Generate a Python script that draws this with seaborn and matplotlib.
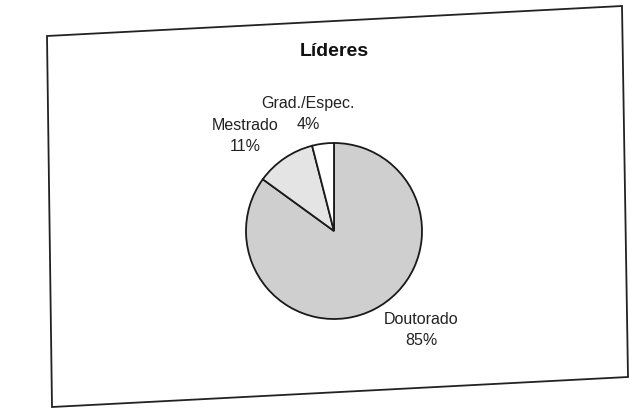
import matplotlib
matplotlib.use("Agg")
import matplotlib.pyplot as plt
from matplotlib.patches import Polygon
import seaborn as sns

# Education level of research group leaders (percent)
categories = ["Doutorado", "Mestrado", "Grad./Espec."]
shares = [85, 11, 4]
title = "Líderes"

slice_colors = ["#cfcfcf", "#e4e4e4", "#ffffff"]
# label anchor points (pixels from the top-left of the canvas)
label_xy = {"Doutorado": (421, 330), "Mestrado": (245, 136), "Grad./Espec.": (308, 114)}

sns.set_theme(style="white")
plt.rcParams["font.family"] = ["Liberation Sans", "DejaVu Sans"]

W, H = 630, 410
fig = plt.figure(figsize=(W / 100, H / 100), dpi=100)
ax = fig.add_axes([0, 0, 1, 1])

# Slightly skewed chart border
corners = [(47, 37), (622, 7), (628, 378), (52, 408)]
ax.add_patch(Polygon([(x, H - y) for x, y in corners], closed=True,
                     fill=False, edgecolor="#222222", linewidth=1.3, zorder=1))

wedges, _ = ax.pie(shares, colors=slice_colors, startangle=90, counterclock=False,
                   center=(334, H - 232), radius=88, frame=True,
                   wedgeprops=dict(edgecolor="#1a1a1a", linewidth=1.3))

for name, pct in zip(categories, shares):
    x, y = label_xy[name]
    ax.text(x, H - y, f"{name}\n{pct}%", ha="center", va="center",
            fontsize=11.5, linespacing=1.45, color="#222222")

ax.text(334, H - 52, title, ha="center", va="center", fontsize=14,
        fontweight="bold", color="#111111")

ax.set_xlim(0, W)
ax.set_ylim(0, H)
ax.set_aspect("equal")
ax.axis("off")

fig.savefig("out.png", dpi=100, facecolor="white")
